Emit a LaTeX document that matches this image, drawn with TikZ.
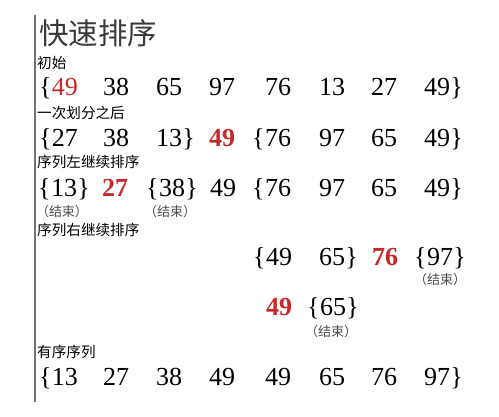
\documentclass[tikz,border=0pt]{standalone}
\usepackage{fontspec}
\setmainfont{Liberation Serif}
\newfontfamily\cjk{Noto Sans CJK SC}
\definecolor{qred}{HTML}{C62828}
\definecolor{titlegray}{HTML}{3A3A3A}
\begin{document}
\begin{tikzpicture}[x=1pt,y=1pt,
  num/.style={inner sep=0pt, font=\fontsize{26}{26}\selectfont},
  rednum/.style={inner sep=0pt, text=qred, font=\fontsize{26}{26}\selectfont\bfseries},
  redthin/.style={inner sep=0pt, text=qred, font=\fontsize{26}{26}\selectfont},
  lbl/.style={inner sep=0pt, anchor=west, font=\cjk\fontsize{14.6}{15}\selectfont},
  endlbl/.style={inner sep=0pt, text=black!70, font=\cjk\fontsize{13}{13}\selectfont},
  lbr/.style={inner sep=0pt, anchor=base east, font=\fontsize{26}{26}\selectfont},
  rbr/.style={inner sep=0pt, anchor=base west, font=\fontsize{26}{26}\selectfont}]
\useasboundingbox (0,0) rectangle (499,416);
\fill[white] (0,0) rectangle (499,416);
% vertical rule
\coordinate (vt) at (35,401);
\coordinate (vb) at (35,14);
\draw[line width=1.4pt, black!55] (vt) -- (vb);
% title and labels
\node[inner sep=0pt, anchor=west, text=titlegray, font=\cjk\fontsize{29.5}{30}\selectfont] (title) at (39,383) {快速排序};
\node[lbl] (l1) at (37,353) {初始};
\node[lbl] (l2) at (37,303) {一次划分之后};
\node[lbl] (l3) at (37,254) {序列左继续排序};
\node[lbl] (l4) at (37,186) {序列右继续排序};
\node[lbl] (l5) at (37,64) {有序序列};
% row 1
\node[redthin] (a1) at (65,329) {49};
\node[num] (a2) at (116,329) {38};
\node[num] (a3) at (169,329) {65};
\node[num] (a4) at (222,329) {97};
\node[num] (a5) at (278,329) {76};
\node[num] (a6) at (332,329) {13};
\node[num] (a7) at (384,329) {27};
\node[num] (a8) at (437,329) {49};
\node[lbr] (a1b) at (a1.base west) {\{};
\node[rbr] (a8b) at (a8.base east) {\}};
% row 2
\node[num] (b1) at (65,278) {27};
\node[num] (b2) at (116,278) {38};
\node[num] (b3) at (169,278) {13};
\node[rednum] (b4) at (222,278) {49};
\node[num] (b5) at (278,278) {76};
\node[num] (b6) at (332,278) {97};
\node[num] (b7) at (384,278) {65};
\node[num] (b8) at (437,278) {49};
\node[lbr] (b1b) at (b1.base west) {\{};
\node[rbr] (b3b) at (b3.base east) {\}};
\node[lbr] (b5b) at (b5.base west) {\{};
\node[rbr] (b8b) at (b8.base east) {\}};
% row 3
\node[num] (c1) at (64,228) {13};
\node[rednum] (c2) at (115,228) {27};
\node[num] (c3) at (172,228) {38};
\node[num] (c4) at (223,228) {49};
\node[num] (c5) at (278,228) {76};
\node[num] (c6) at (332,228) {97};
\node[num] (c7) at (384,228) {65};
\node[num] (c8) at (437,228) {49};
\node[lbr] (c1l) at (c1.base west) {\{};
\node[rbr] (c1r) at (c1.base east) {\}};
\node[lbr] (c3l) at (c3.base west) {\{};
\node[rbr] (c3r) at (c3.base east) {\}};
\node[lbr] (c5l) at (c5.base west) {\{};
\node[rbr] (c8r) at (c8.base east) {\}};
\node[endlbl] (e1) at (62,204) {（结束）};
\node[endlbl] (e2) at (170,204) {（结束）};
% row 4
\node[num] (d5) at (279,159) {49};
\node[num] (d6) at (332,159) {65};
\node[rednum] (d7) at (385,159) {76};
\node[num] (d8) at (440,159) {97};
\node[lbr] (d5l) at (d5.base west) {\{};
\node[rbr] (d6r) at (d6.base east) {\}};
\node[lbr] (d8l) at (d8.base west) {\{};
\node[rbr] (d8r) at (d8.base east) {\}};
\node[endlbl] (e3) at (440,136) {（结束）};
% row 5
\node[rednum] (f5) at (279,109) {49};
\node[num] (f6) at (333,109) {65};
\node[lbr] (f6l) at (f6.base west) {\{};
\node[rbr] (f6r) at (f6.base east) {\}};
\node[endlbl] (e4) at (331,84) {（结束）};
% row 6
\node[num] (g1) at (65,39) {13};
\node[num] (g2) at (116,39) {27};
\node[num] (g3) at (169,39) {38};
\node[num] (g4) at (222,39) {49};
\node[num] (g5) at (278,39) {49};
\node[num] (g6) at (332,39) {65};
\node[num] (g7) at (384,39) {76};
\node[num] (g8) at (437,39) {97};
\node[lbr] (g1l) at (g1.base west) {\{};
\node[rbr] (g8r) at (g8.base east) {\}};
\end{tikzpicture}
\end{document}
